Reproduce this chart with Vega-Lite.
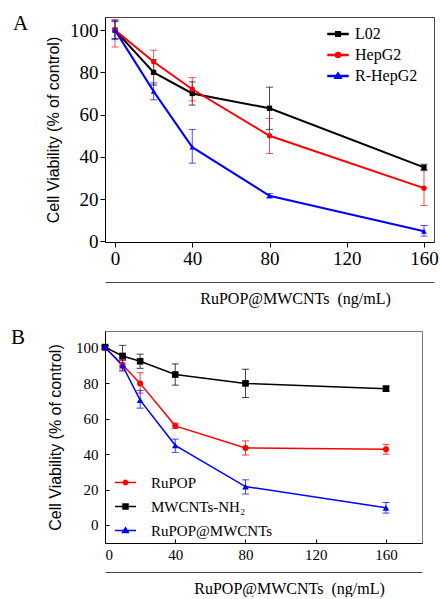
{
  "$schema": "https://vega.github.io/schema/vega-lite/v6.json",
  "background": "white",
  "padding": {"left": 10, "top": 12, "right": 2, "bottom": 0},
  "spacing": 19,
  "resolve": {"scale": {"color": "independent", "fill": "independent", "stroke": "independent", "shape": "independent"}, "legend": {"fill": "independent", "stroke": "independent", "shape": "independent"}},
  "config": {
    "axis": {"grid": false, "domainColor": "#000", "tickColor": "#000", "labelColor": "#000", "titleColor": "#000", "labelFont": "Liberation Serif", "titleFont": "Liberation Sans", "titleFontWeight": "normal"},
    "title": {"font": "Liberation Serif", "fontWeight": "normal", "color": "#000"}
  },
  "datasets": {
    "a": [
      {"series": "L02", "x": 0, "y": 100, "lo": 96, "hi": 104},
      {"series": "L02", "x": 20, "y": 80, "lo": 74, "hi": 86},
      {"series": "L02", "x": 40, "y": 70, "lo": 64.5, "hi": 75.5},
      {"series": "L02", "x": 80, "y": 63, "lo": 53, "hi": 73},
      {"series": "L02", "x": 160, "y": 35, "lo": 33.5, "hi": 36.5},
      {"series": "HepG2", "x": 0, "y": 100, "lo": 92, "hi": 105},
      {"series": "HepG2", "x": 20, "y": 85, "lo": 79.5, "hi": 90.5},
      {"series": "HepG2", "x": 40, "y": 72, "lo": 66.5, "hi": 77.5},
      {"series": "HepG2", "x": 80, "y": 50, "lo": 41.6, "hi": 58.2},
      {"series": "HepG2", "x": 160, "y": 25.2, "lo": 17, "hi": 34},
      {"series": "R-HepG2", "x": 0, "y": 100, "lo": 95.5, "hi": 104.5},
      {"series": "R-HepG2", "x": 20, "y": 71, "lo": 67, "hi": 75},
      {"series": "R-HepG2", "x": 40, "y": 44.6, "lo": 37, "hi": 53},
      {"series": "R-HepG2", "x": 80, "y": 21.6, "lo": 20.6, "hi": 22.6},
      {"series": "R-HepG2", "x": 160, "y": 4.8, "lo": 2.5, "hi": 7.5}
    ],
    "b": [
      {"series": "MWCNTs-NH₂", "x": 0, "y": 100.5, "lo": 99.5, "hi": 101.5},
      {"series": "MWCNTs-NH₂", "x": 10, "y": 95.5, "lo": 89.5, "hi": 101.5},
      {"series": "MWCNTs-NH₂", "x": 20, "y": 92.5, "lo": 88.5, "hi": 96.5},
      {"series": "MWCNTs-NH₂", "x": 40, "y": 85, "lo": 79, "hi": 91},
      {"series": "MWCNTs-NH₂", "x": 80, "y": 80, "lo": 72, "hi": 88},
      {"series": "MWCNTs-NH₂", "x": 160, "y": 77, "lo": 75.5, "hi": 78.5},
      {"series": "RuPOP", "x": 0, "y": 100, "lo": 99, "hi": 101},
      {"series": "RuPOP", "x": 10, "y": 90.5, "lo": 87.5, "hi": 93.5},
      {"series": "RuPOP", "x": 20, "y": 80, "lo": 74.5, "hi": 86},
      {"series": "RuPOP", "x": 40, "y": 56, "lo": 54.5, "hi": 57.5},
      {"series": "RuPOP", "x": 80, "y": 43.5, "lo": 39.5, "hi": 47.5},
      {"series": "RuPOP", "x": 160, "y": 42.8, "lo": 40, "hi": 45.5},
      {"series": "RuPOP@MWCNTs", "x": 0, "y": 100.5, "lo": 99.5, "hi": 101.5},
      {"series": "RuPOP@MWCNTs", "x": 10, "y": 90, "lo": 87, "hi": 93},
      {"series": "RuPOP@MWCNTs", "x": 20, "y": 70.5, "lo": 66, "hi": 76},
      {"series": "RuPOP@MWCNTs", "x": 40, "y": 45, "lo": 41, "hi": 48.5},
      {"series": "RuPOP@MWCNTs", "x": 80, "y": 21.7, "lo": 17.5, "hi": 25.5},
      {"series": "RuPOP@MWCNTs", "x": 160, "y": 9.7, "lo": 6.7, "hi": 12.7}
    ]
  },
  "vconcat": [
    {
      "width": 329,
      "height": 225,
      "data": {"name": "a"},
      "view": {"stroke": "#444", "strokeWidth": 1},
      "title": {"text": "A", "anchor": "start", "frame": "group", "dx": -92, "offset": -17, "baseline": "top", "fontSize": 21},
      "resolve": {"scale": {"fill": "independent", "stroke": "independent", "shape": "independent"}, "axis": {"x": "independent", "y": "independent"}},
      "layer": [
        {
          "mark": {"type": "rule", "opacity": 0.7, "strokeWidth": 1},
          "encoding": {
            "x": {"field": "x", "type": "quantitative", "scale": {"domain": [-5.18, 165.18], "nice": false, "zero": false},
                  "axis": {"orient": "bottom", "values": [0, 40, 80, 120, 160], "tickSize": 5, "labelFontSize": 19, "labelPadding": 2, "title": null}},
            "y": {"field": "lo", "type": "quantitative", "scale": {"domain": [-0.3, 106.2], "nice": false},
                  "axis": {"orient": "left", "values": [0, 20, 40, 60, 80, 100], "tickSize": 5, "labelFontSize": 19, "labelPadding": 2, "title": "Cell Viability (% of control)", "titleFontSize": 16, "titlePadding": 8}},
            "y2": {"field": "hi"},
            "color": {"field": "series", "type": "nominal", "scale": {"domain": ["L02", "HepG2", "R-HepG2"], "range": ["#000000", "#ff0000", "#0000ff"]}, "legend": null}
          }
        },
        {
          "mark": {"type": "tick", "orient": "horizontal", "size": 7, "thickness": 1, "opacity": 0.7},
          "encoding": {
            "x": {"field": "x", "type": "quantitative", "axis": null},
            "y": {"field": "lo", "type": "quantitative", "axis": null},
            "color": {"field": "series", "type": "nominal", "legend": null}
          }
        },
        {
          "mark": {"type": "tick", "orient": "horizontal", "size": 7, "thickness": 1, "opacity": 0.7},
          "encoding": {
            "x": {"field": "x", "type": "quantitative", "axis": null},
            "y": {"field": "hi", "type": "quantitative", "axis": null},
            "color": {"field": "series", "type": "nominal", "legend": null}
          }
        },
        {
          "mark": {"type": "line", "strokeWidth": 2},
          "encoding": {
            "x": {"field": "x", "type": "quantitative", "axis": null},
            "y": {"field": "y", "type": "quantitative", "axis": null},
            "color": {"field": "series", "type": "nominal", "legend": null}
          }
        },
        {
          "transform": [{"filter": "datum.series === 'L02'"}],
          "mark": {"type": "point", "filled": true, "opacity": 1, "size": 28, "shape": "square"},
          "encoding": {
            "x": {"field": "x", "type": "quantitative", "axis": null},
            "y": {"field": "y", "type": "quantitative", "axis": null},
            "color": {"field": "series", "type": "nominal", "legend": null}
          }
        },
        {
          "transform": [{"filter": "datum.series === 'HepG2'"}],
          "mark": {"type": "point", "filled": true, "opacity": 1, "size": 28, "shape": "circle"},
          "encoding": {
            "x": {"field": "x", "type": "quantitative", "axis": null},
            "y": {"field": "y", "type": "quantitative", "axis": null},
            "color": {"field": "series", "type": "nominal", "legend": null}
          }
        },
        {
          "transform": [{"filter": "datum.series === 'R-HepG2'"}],
          "mark": {"type": "point", "filled": true, "opacity": 1, "size": 32, "shape": "triangle-up"},
          "encoding": {
            "x": {"field": "x", "type": "quantitative", "axis": null},
            "y": {"field": "y", "type": "quantitative", "axis": null},
            "color": {"field": "series", "type": "nominal", "legend": null}
          }
        },
        {
          "transform": [{"filter": "false"}],
          "mark": {"type": "point", "filled": true, "opacity": 1},
          "encoding": {
            "x": {"field": "x", "type": "quantitative",
                  "axis": {"orient": "bottom", "offset": 40, "ticks": false, "labels": false, "domain": true, "domainColor": "#444", "title": "RuPOP@MWCNTs\u00a0 (ng/mL)", "titleFont": "Liberation Serif", "titleFontSize": 16, "titlePadding": 8, "titleX": 190}},
            "y": {"field": "y", "type": "quantitative", "axis": null},
            "fill": {"field": "series", "type": "nominal", "scale": {"domain": ["L02", "HepG2", "R-HepG2"], "range": ["#000000", "#ff0000", "#0000ff"]},
                      "legend": {"orient": "none", "legendX": 225, "legendY": 9, "title": null, "labelFont": "Liberation Serif", "labelFontSize": 16, "labelColor": "#000", "labelOffset": 9, "rowPadding": 5, "symbolSize": 100, "symbolStrokeWidth": 2.5, "symbolOpacity": 1}},
            "stroke": {"field": "series", "type": "nominal", "scale": {"domain": ["L02", "HepG2", "R-HepG2"], "range": ["#000000", "#ff0000", "#0000ff"]},
                      "legend": {"orient": "none", "legendX": 225, "legendY": 9, "title": null, "labelFont": "Liberation Serif", "labelFontSize": 16, "labelColor": "#000", "labelOffset": 9, "rowPadding": 5, "symbolSize": 100, "symbolStrokeWidth": 2.5, "symbolOpacity": 1}},
            "shape": {"field": "series", "type": "nominal",
                      "scale": {"domain": ["L02", "HepG2", "R-HepG2"], "range": ["M-2.15,0H2.15M-0.36,-0.36H0.36V0.36H-0.36Z", "M-2.15,0H2.15M0.4,0A0.4,0.4,0,1,1,-0.4,0A0.4,0.4,0,1,1,0.4,0", "M-2.15,0H2.15M0,-0.45L0.47,0.36H-0.47Z"]},
                      "legend": {"orient": "none", "legendX": 225, "legendY": 9, "title": null, "labelFont": "Liberation Serif", "labelFontSize": 16, "labelColor": "#000", "labelOffset": 9, "rowPadding": 5, "symbolSize": 100, "symbolStrokeWidth": 2.5, "symbolOpacity": 1}}
          }
        }
      ]
    },
    {
      "width": 317,
      "height": 212,
      "data": {"name": "b"},
      "view": {"stroke": "#777", "strokeWidth": 1},
      "title": {"text": "B", "anchor": "start", "frame": "group", "dx": -94, "offset": -17, "baseline": "top", "fontSize": 21},
      "resolve": {"scale": {"fill": "independent", "stroke": "independent", "shape": "independent"}, "axis": {"x": "independent", "y": "independent"}},
      "layer": [
        {
          "mark": {"type": "rule", "opacity": 0.75, "strokeWidth": 1},
          "encoding": {
            "x": {"field": "x", "type": "quantitative", "scale": {"domain": [0, 180.5], "nice": false, "zero": false},
                  "axis": {"orient": "bottom", "values": [0, 40, 80, 120, 160], "tickSize": -4, "labelFontSize": 15, "labelPadding": 8, "title": null}},
            "y": {"field": "lo", "type": "quantitative", "scale": {"domain": [-10.2, 109.6], "nice": false},
                  "axis": {"orient": "left", "values": [0, 20, 40, 60, 80, 100], "tickSize": -4, "labelFontSize": 15, "labelPadding": 11, "title": "Cell Viability (% of control)", "titleFontSize": 16, "titlePadding": 12}},
            "y2": {"field": "hi"},
            "color": {"field": "series", "type": "nominal", "scale": {"domain": ["RuPOP", "MWCNTs-NH₂", "RuPOP@MWCNTs"], "range": ["#ff0000", "#000000", "#0000ff"]}, "legend": null}
          }
        },
        {
          "mark": {"type": "tick", "orient": "horizontal", "size": 7, "thickness": 1, "opacity": 0.75},
          "encoding": {
            "x": {"field": "x", "type": "quantitative", "axis": null},
            "y": {"field": "lo", "type": "quantitative", "axis": null},
            "color": {"field": "series", "type": "nominal", "legend": null}
          }
        },
        {
          "mark": {"type": "tick", "orient": "horizontal", "size": 7, "thickness": 1, "opacity": 0.75},
          "encoding": {
            "x": {"field": "x", "type": "quantitative", "axis": null},
            "y": {"field": "hi", "type": "quantitative", "axis": null},
            "color": {"field": "series", "type": "nominal", "legend": null}
          }
        },
        {
          "mark": {"type": "line", "strokeWidth": 1.5},
          "encoding": {
            "x": {"field": "x", "type": "quantitative", "axis": null},
            "y": {"field": "y", "type": "quantitative", "axis": null},
            "color": {"field": "series", "type": "nominal", "legend": null}
          }
        },
        {
          "transform": [{"filter": "datum.series === 'RuPOP'"}],
          "mark": {"type": "point", "filled": true, "opacity": 1, "size": 36, "shape": "circle"},
          "encoding": {
            "x": {"field": "x", "type": "quantitative", "axis": null},
            "y": {"field": "y", "type": "quantitative", "axis": null},
            "color": {"field": "series", "type": "nominal", "legend": null}
          }
        },
        {
          "transform": [{"filter": "datum.series === 'MWCNTs-NH₂'"}],
          "mark": {"type": "point", "filled": true, "opacity": 1, "size": 44, "shape": "square"},
          "encoding": {
            "x": {"field": "x", "type": "quantitative", "axis": null},
            "y": {"field": "y", "type": "quantitative", "axis": null},
            "color": {"field": "series", "type": "nominal", "legend": null}
          }
        },
        {
          "transform": [{"filter": "datum.series === 'RuPOP@MWCNTs'"}],
          "mark": {"type": "point", "filled": true, "opacity": 1, "size": 44, "shape": "triangle-up"},
          "encoding": {
            "x": {"field": "x", "type": "quantitative", "axis": null},
            "y": {"field": "y", "type": "quantitative", "axis": null},
            "color": {"field": "series", "type": "nominal", "legend": null}
          }
        },
        {
          "transform": [{"filter": "false"}],
          "mark": {"type": "point", "filled": true, "opacity": 1},
          "encoding": {
            "x": {"field": "x", "type": "quantitative",
                  "axis": {"orient": "bottom", "offset": 29, "ticks": false, "labels": false, "domain": true, "domainColor": "#444", "title": "RuPOP@MWCNTs\u00a0 (ng/mL)", "titleFont": "Liberation Serif", "titleFontSize": 16, "titlePadding": 8, "titleX": 184}},
            "y": {"field": "y", "type": "quantitative", "axis": null},
            "fill": {"field": "series", "type": "nominal", "scale": {"domain": ["RuPOP", "MWCNTs-NH₂", "RuPOP@MWCNTs"], "range": ["#ff0000", "#000000", "#0000ff"]},
                      "legend": {"orient": "none", "legendX": 13, "legendY": 144, "title": null, "labelFont": "Liberation Serif", "labelFontSize": 15, "labelColor": "#000", "labelOffset": 18, "rowPadding": 8, "symbolSize": 100, "symbolStrokeWidth": 1.5, "symbolOpacity": 1}},
            "stroke": {"field": "series", "type": "nominal", "scale": {"domain": ["RuPOP", "MWCNTs-NH₂", "RuPOP@MWCNTs"], "range": ["#ff0000", "#000000", "#0000ff"]},
                      "legend": {"orient": "none", "legendX": 13, "legendY": 144, "title": null, "labelFont": "Liberation Serif", "labelFontSize": 15, "labelColor": "#000", "labelOffset": 18, "rowPadding": 8, "symbolSize": 100, "symbolStrokeWidth": 1.5, "symbolOpacity": 1}},
            "shape": {"field": "series", "type": "nominal",
                      "scale": {"domain": ["RuPOP", "MWCNTs-NH₂", "RuPOP@MWCNTs"], "range": ["M-2.1,0H2.1M0.43,0A0.43,0.43,0,1,1,-0.43,0A0.43,0.43,0,1,1,0.43,0", "M-2.1,0H2.1M-0.5,-0.5H0.5V0.5H-0.5Z", "M-2.1,0H2.1M0,-0.54L0.58,0.4H-0.58Z"]},
                      "legend": {"orient": "none", "legendX": 13, "legendY": 144, "title": null, "labelFont": "Liberation Serif", "labelFontSize": 15, "labelColor": "#000", "labelOffset": 18, "rowPadding": 8, "symbolSize": 100, "symbolStrokeWidth": 1.5, "symbolOpacity": 1}}
          }
        }
      ]
    }
  ]
}
